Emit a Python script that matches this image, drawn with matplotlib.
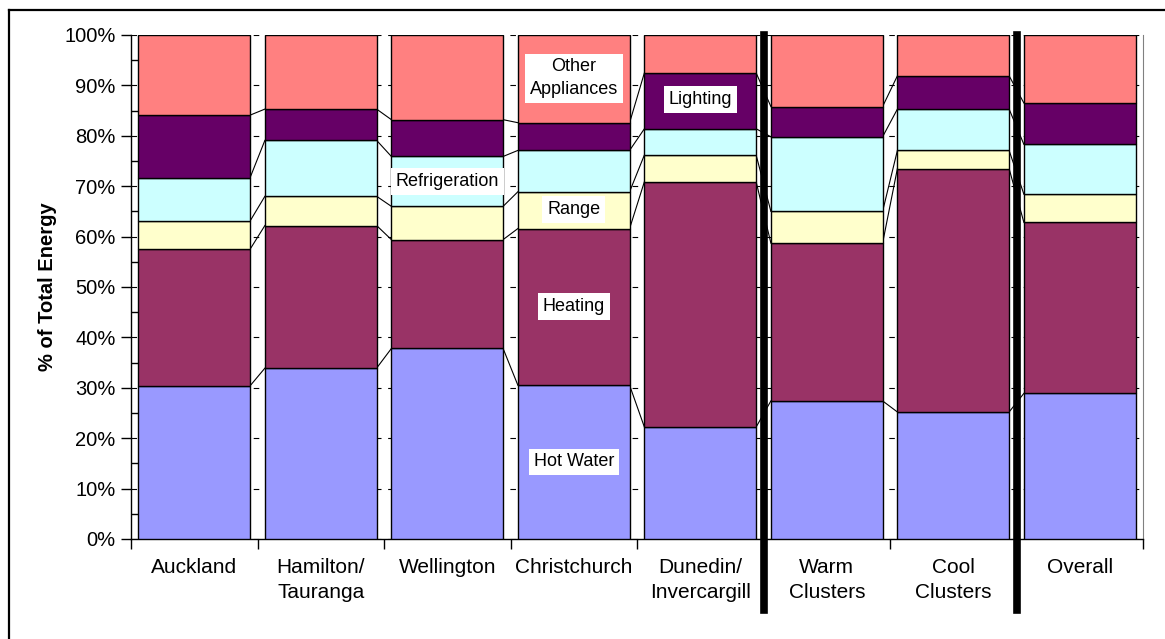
import numpy as np
import matplotlib.pyplot as plt
from matplotlib.lines import Line2D
from matplotlib.ticker import MultipleLocator, FixedLocator, NullFormatter

plt.rcParams['font.family'] = ['Liberation Sans', 'DejaVu Sans']

categories = ['Auckland', 'Hamilton/\nTauranga', 'Wellington', 'Christchurch',
              'Dunedin/\nInvercargill', 'Warm\nClusters', 'Cool\nClusters', 'Overall']

# % of total energy per end use (bottom to top)
hot_water     = [30.4, 33.9, 37.8, 30.5, 22.2, 27.4, 25.2, 28.9]
heating       = [27.1, 28.3, 21.6, 31.1, 48.7, 31.3, 48.3, 33.9]
range_cook    = [5.6, 5.8, 6.6, 7.3, 5.3, 6.3, 3.6, 5.6]
refrigeration = [8.6, 11.1, 9.9, 8.2, 5.2, 14.8, 8.2, 9.9]
lighting      = [12.4, 6.2, 7.3, 5.5, 11.1, 6.0, 6.6, 8.2]
other         = [15.9, 14.7, 16.8, 17.4, 7.5, 14.2, 8.1, 13.5]

series = [hot_water, heating, range_cook, refrigeration, lighting, other]
colors = ['#9999FF', '#993366', '#FFFFCC', '#CCFFFF', '#660066', '#FF8080']

# label text, category index, y position (%)
labels = [('Hot Water', 3, 15.3), ('Heating', 3, 46.2), ('Range', 3, 65.4),
          ('Refrigeration', 2, 70.9), ('Lighting', 4, 87.2),
          ('Other\nAppliances', 3, 91.4)]

fig = plt.figure(figsize=(11.65, 6.39), dpi=100)
ax = fig.add_axes([131 / 1165, 1 - 539 / 639, (1143 - 131) / 1165, (539 - 35) / 639])

x = np.arange(len(categories))
w = 0.883
bottom = np.zeros(len(categories))
for vals, c in zip(series, colors):
    vals = np.array(vals, dtype=float)
    ax.bar(x, vals, w, bottom=bottom, color=c, edgecolor='black', linewidth=1, zorder=3)
    top = bottom + vals
    # series lines between neighbouring bars
    if c != colors[-1]:
        for i in range(len(x) - 1):
            ax.plot([x[i] + w / 2, x[i + 1] - w / 2], [top[i], top[i + 1]],
                    color='black', lw=0.8, zorder=2)
    bottom = top

for txt, i, y in labels:
    ax.text(i, y, txt, ha='center', va='center', fontsize=13, zorder=5,
            linespacing=1.45, bbox=dict(facecolor='white', edgecolor='none', pad=3.5))

# thick separators
for xs in [4.5, 6.5]:
    ax.add_line(Line2D([xs, xs], [1.0, -71 / 504], transform=ax.get_xaxis_transform(),
                       color='black', lw=5.5, clip_on=False, zorder=6))

ax.set_xlim(-0.5, len(categories) - 0.5)
ax.set_ylim(0, 100)
ax.yaxis.set_minor_locator(MultipleLocator(5))
ax.set_yticks(range(0, 101, 10))
ax.set_yticklabels([f'{v}%' for v in range(0, 101, 10)], fontsize=14.5)
ax.tick_params(axis='y', which='major', direction='out', length=7, width=1, pad=4)
ax.tick_params(axis='y', which='minor', direction='in', length=6, width=1)

ax.xaxis.set_major_locator(FixedLocator(np.arange(-0.5, len(categories), 1.0)))
ax.xaxis.set_major_formatter(NullFormatter())
ax.xaxis.set_minor_locator(FixedLocator(x))
ax.set_xticklabels(categories, minor=True, fontsize=15, linespacing=1.4)
ax.tick_params(axis='x', which='major', direction='out', length=7, width=1)
ax.tick_params(axis='x', which='minor', length=0, pad=14)

ax.grid(axis='y', which='major', color='black', linestyle=(0, (5, 6)), lw=0.8, zorder=0)
ax.set_axisbelow(True)

ax.spines['top'].set_visible(False)
ax.spines['right'].set_color('#808080')
ax.spines['left'].set_linewidth(1)
ax.spines['bottom'].set_linewidth(1)

fig.text(48 / 1165, 1 - 287 / 639, '% of Total Energy', rotation=90, ha='center',
         va='center', fontsize=14.5, fontweight='bold')

# outer frame
fig.add_artist(Line2D([9 / 1165, 1], [1 - 10 / 639, 1 - 10 / 639], color='black', lw=1.6))
fig.add_artist(Line2D([9 / 1165, 9 / 1165], [0, 1 - 10 / 639], color='black', lw=1.6))

fig.savefig('out.png', dpi=100)
